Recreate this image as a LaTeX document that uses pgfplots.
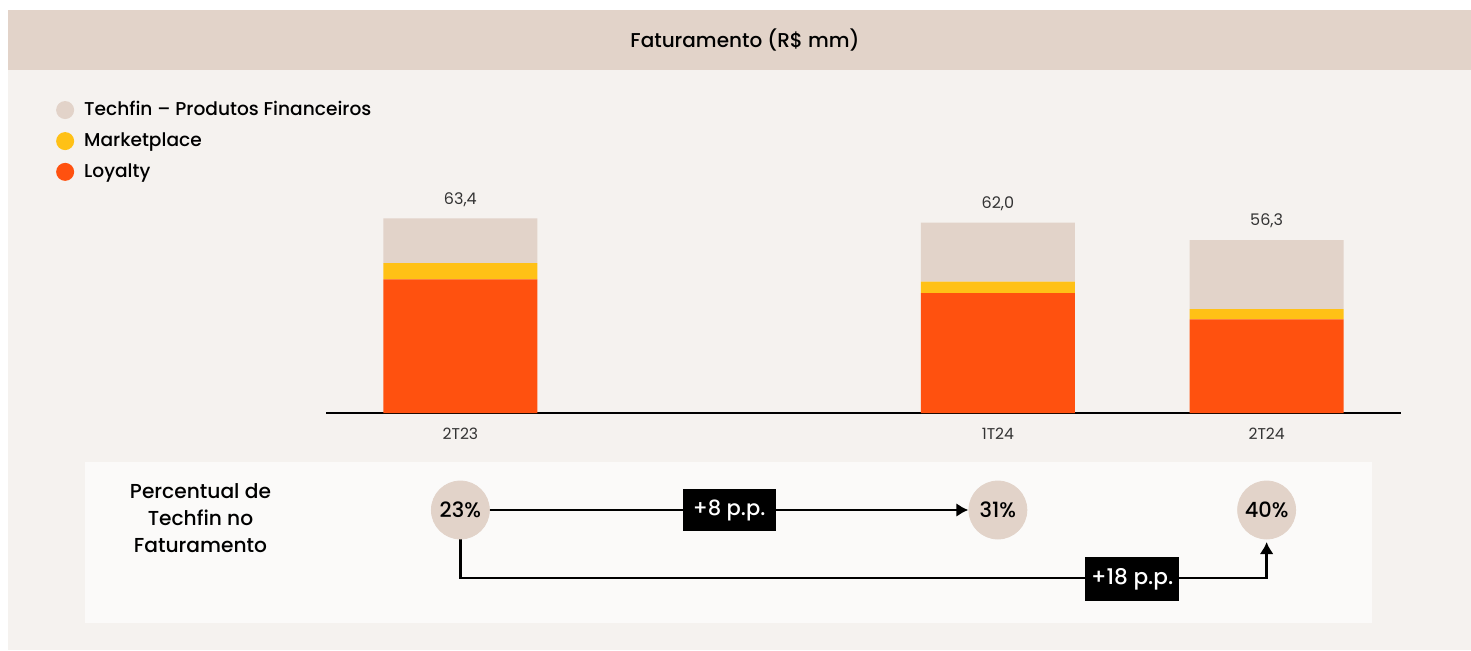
\documentclass[border=0pt]{standalone}
\usepackage{fontspec}
\setmainfont{Poppins Medium}
\newfontfamily\lightfont{Poppins}
\usepackage{pgfplots}
\pgfplotsset{compat=1.18}
\usetikzlibrary{arrows.meta}

\definecolor{bg}{HTML}{F5F2EF}
\definecolor{head}{HTML}{E2D3C9}
\definecolor{panel}{HTML}{FBFAF9}
\definecolor{techfin}{HTML}{E2D3C9}
\definecolor{market}{HTML}{FFC116}
\definecolor{loyal}{HTML}{FF510F}
\definecolor{darktext}{HTML}{333333}

\pgfplotsset{barbox/.style={
	at={(163pt,118.5pt)}, anchor=south west,
	scale only axis, width=537.5pt, height=107.5pt,
	ymin=0, ymax=70, xmin=-0.5, xmax=3.5, clip=false}}

\begin{document}
\begin{tikzpicture}[x=0.5pt,y=0.5pt]
% fundo e faixa do titulo
\fill[bg] (8,0) rectangle (1471,640);
\fill[head] (8,580) rectangle (1471,640);
\node[font=\fontsize{10}{12}\selectfont] at (745,610) {Faturamento (R\$ mm)};
\fill[panel] (85,27) rectangle (1372,188);

\begin{axis}[
	barbox,
	ybar stacked, bar width=77pt,
	axis x line*=bottom, axis y line=none,
	x axis line style={-, black, line width=0.8pt},
	xtick={0,2,3}, xticklabels={2T23,1T24,2T24},
	major tick length=0pt,
	xticklabel style={anchor=center, yshift=-10.5pt, font=\lightfont\fontsize{7.8}{9}\selectfont, text=darktext},
	reverse legend,
	legend image code/.code={\fill (0pt,0pt) circle (4.5pt); \path (7.5pt,0pt);},
	legend style={at={(-0.2514,1.47)}, anchor=north west, draw=none, fill=none,
		font=\fontsize{9.3}{10}\selectfont, row sep=3pt, inner sep=0pt},
	legend cell align=left,
]
\addplot[draw=none, fill=loyal] coordinates {(0,43.5) (2,39.0) (3,30.5)};
\addlegendentry{Loyalty}
\addplot[draw=none, fill=market] coordinates {(0,5.3) (2,3.8) (3,3.3)};
\addlegendentry{Marketplace}
\addplot[draw=none, fill=techfin] coordinates {(0,14.6) (2,19.2) (3,22.5)};
\addlegendentry{Techfin -- Produtos Financeiros}
\end{axis}

% totais acima das barras
\begin{axis}[barbox, hide axis]
\addplot[draw=none, mark=none, nodes near coords={\pgfmathprintnumber[use comma,fixed,fixed zerofill,precision=1,assume math mode=true]{\pgfplotspointmeta}},
	nodes near coords style={anchor=center, yshift=9.5pt, font=\lightfont\fontsize{8}{9}\selectfont, text=darktext}]
	coordinates {(0,63.4) (2,62.0) (3,56.3)};
\end{axis}

\begin{axis}[
	at={(163pt,13.5pt)}, anchor=south west,
	scale only axis, width=537.5pt, height=80.5pt,
	xmin=-0.5, xmax=3.5, ymin=0, ymax=161,
	hide axis, clip=false,
]
\draw[line width=1.4pt, -{Latex[length=6pt,width=7pt]}] (axis cs:0.1,113) -- (axis cs:1.89,113);
\node[fill=black, text=white, minimum width=46.5pt, minimum height=21pt, inner sep=0pt,
	font=\fontsize{10.5}{11}\selectfont] at (axis cs:1,113) {+8 p.p.};
\draw[line width=1.4pt, -{Latex[length=6pt,width=7pt]}] (axis cs:0,84) -- (axis cs:0,45) -- (axis cs:3,45) -- (axis cs:3,81);
\node[fill=black, text=white, minimum width=47pt, minimum height=22pt, inner sep=0pt,
	font=\fontsize{10.8}{11}\selectfont] at (axis cs:2.5,44) {+18 p.p.};
\addplot[only marks, mark=*, mark size=14.5pt, color=techfin,
	point meta=explicit symbolic, nodes near coords,
	nodes near coords style={anchor=center, font=\fontsize{10.5}{12}\selectfont, text=black}]
	coordinates {(0,113) [23\%] (2,113) [31\%] (3,113) [40\%]};
\node[align=center, font=\fontsize{10.1}{13.5}\selectfont] at (axis cs:-0.967,105)
	{Percentual de\\Techfin no\\Faturamento};
\end{axis}

\pgfresetboundingbox
\path (0,0) rectangle (1471,650);
\end{tikzpicture}
\end{document}
